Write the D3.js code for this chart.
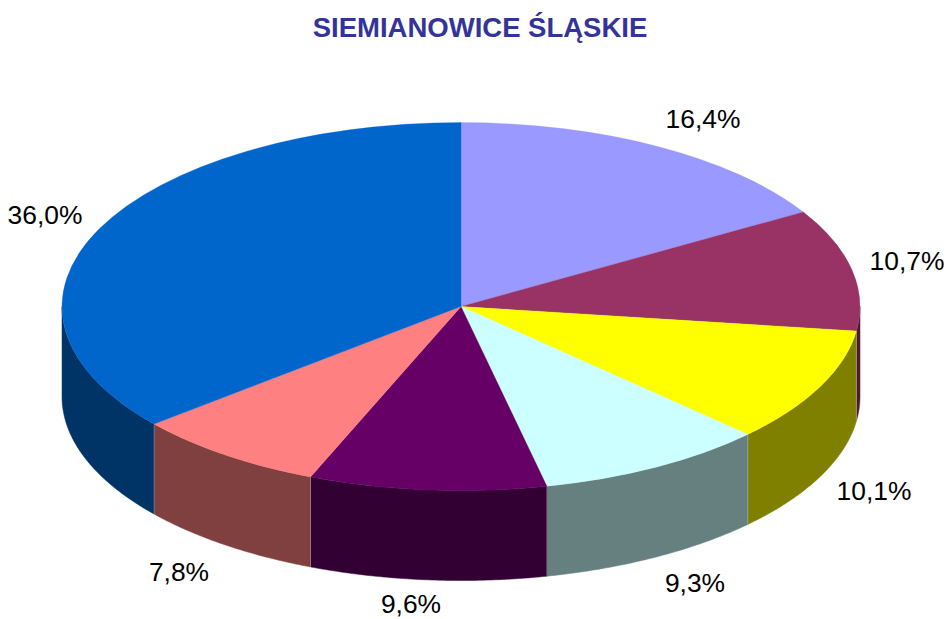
<!DOCTYPE html>
<html>
<head>
<meta charset="utf-8">
<script src="https://cdn.jsdelivr.net/npm/d3@7"></script>
<style>
html, body { margin: 0; padding: 0; background: #fff; }
text { font-family: "Liberation Sans", Arial, sans-serif; }
</style>
</head>
<body>
<div id="chart"></div>
<script>
const titleText = "SIEMIANOWICE ŚLĄSKIE";
const sliceValues = [16.4, 10.7, 10.1, 9.3, 9.6, 7.8, 36.0];
const topColors = ["#9999ff", "#993366", "#ffff00", "#ccffff", "#660066", "#ff8080", "#0066cc"];
const sideColors = ["#4d4d80", "#4d1a33", "#808000", "#668080", "#330033", "#804040", "#003366"];
// label anchor points, clockwise from the first slice
const labelSpots = [[703, 128], [907, 270], [874, 500], [695, 592], [411, 613], [179, 581], [45, 224]];

const width = 948, height = 619;
const cx = 461, cy = 306.5, rx = 399, ry = 184, depth = 90;

const svg = d3.select("#chart").append("svg")
    .attr("width", width)
    .attr("height", height);

svg.append("text")
    .attr("x", 480)
    .attr("y", 37)
    .attr("text-anchor", "middle")
    .attr("font-size", 27.5)
    .attr("font-weight", "bold")
    .attr("fill", "#333399")
    .text(titleText);

const pie = d3.pie().sort(null);
const slices = pie(sliceValues);

const ellipseX = a => cx + rx * Math.sin(a);
const ellipseY = a => cy - ry * Math.cos(a);

// side wall: only the part of a slice on the front half of the ellipse
const wallPath = function (d) {
    const a0 = Math.max(d.startAngle, Math.PI / 2);
    const a1 = Math.min(d.endAngle, Math.PI * 3 / 2);
    if (a1 <= a0) return null;
    const steps = d3.range(0, 61).map(i => a0 + (a1 - a0) * i / 60);
    const upper = steps.map(a => [ellipseX(a), ellipseY(a)]);
    const lower = steps.slice().reverse().map(a => [ellipseX(a), ellipseY(a) + depth]);
    return d3.line()(upper.concat(lower)) + "Z";
};

svg.append("g").attr("class", "walls")
    .selectAll("path")
    .data(slices)
    .join("path")
    .attr("d", wallPath)
    .attr("fill", (d, i) => sideColors[i])
    .attr("stroke", (d, i) => sideColors[i])
    .attr("stroke-width", 0.5);

// thin light seams where the front walls meet
svg.append("g").attr("class", "seams")
    .selectAll("line")
    .data(slices.filter(d => d.endAngle > Math.PI / 2 && d.endAngle < Math.PI * 3 / 2))
    .join("line")
    .attr("x1", d => ellipseX(d.endAngle))
    .attr("x2", d => ellipseX(d.endAngle))
    .attr("y1", d => ellipseY(d.endAngle))
    .attr("y2", d => ellipseY(d.endAngle) + depth)
    .attr("stroke", "#c8c0c0")
    .attr("stroke-opacity", 0.6)
    .attr("stroke-width", 0.7);

const arc = d3.arc().innerRadius(0).outerRadius(rx);

svg.append("g").attr("class", "tops")
    .attr("transform", "translate(" + cx + "," + cy + ") scale(1," + (ry / rx) + ")")
    .selectAll("path")
    .data(slices)
    .join("path")
    .attr("d", arc)
    .attr("fill", (d, i) => topColors[i])
    .attr("stroke", (d, i) => topColors[i])
    .attr("stroke-width", 0.4);

svg.append("g").attr("class", "labels")
    .selectAll("text")
    .data(sliceValues)
    .join("text")
    .attr("x", (d, i) => labelSpots[i][0])
    .attr("y", (d, i) => labelSpots[i][1])
    .attr("text-anchor", "middle")
    .attr("font-size", 26.4)
    .attr("fill", "#000")
    .text(d => d.toFixed(1).replace(".", ",") + "%");
</script>
</body>
</html>
